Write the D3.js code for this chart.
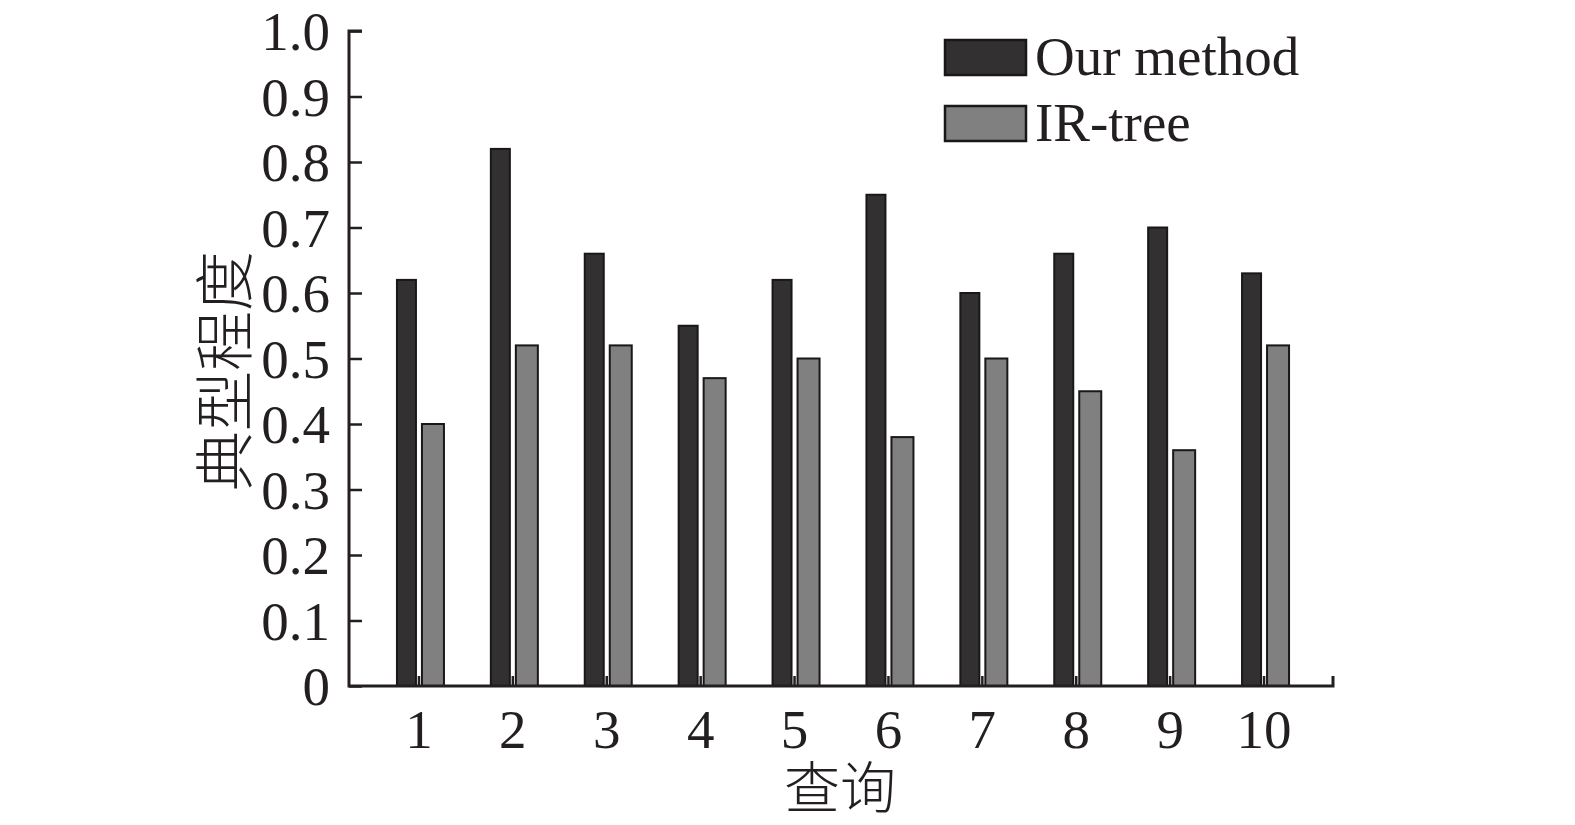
<!DOCTYPE html>
<html>
<head>
<meta charset="utf-8">
<script src="https://cdn.jsdelivr.net/npm/d3@7"></script>
<style>
  body { margin: 0; background: #fff; }
  text { font-family: "Liberation Serif", "Times New Roman", serif; fill: #231f20; }
  .cjk { font-family: "Noto Sans CJK SC", sans-serif; }
</style>
</head>
<body>
<script>
//data
var queries = ["1", "2", "3", "4", "5", "6", "7", "8", "9", "10"];
var ourMethod = [0.62, 0.82, 0.66, 0.55, 0.62, 0.75, 0.60, 0.66, 0.70, 0.63];
var irTree = [0.40, 0.52, 0.52, 0.47, 0.50, 0.38, 0.50, 0.45, 0.36, 0.52];
var yTicks = [0, 0.1, 0.2, 0.3, 0.4, 0.5, 0.6, 0.7, 0.8, 0.9, 1.0];
var seriesNames = ["Our method", "IR-tree"];

var width = 1575, height = 825;
var axisLeft = 349, axisRight = 1333, axisBottom = 686, axisTop = 31;
var colors = ["#333031", "#808080"];
var fontSize = 55;

var svg = d3.select("body").append("svg")
    .attr("width", width)
    .attr("height", height);

var x = d3.scaleBand()
    .domain(queries)
    .range([372, 1311]);

var y = d3.scaleLinear()
    .domain([0, 1])
    .range([axisBottom, axisTop]);

//bars, black one left of the category centre, grey one right of it
var groups = svg.selectAll(".q")
    .data(queries)
    .enter().append("g")
    .attr("class", "q")
    .attr("transform", function(d){ return "translate(" + (x(d) + x.bandwidth() / 2) + ",0)"; });

groups.append("rect")
    .attr("x", -22)
    .attr("width", 19)
    .attr("y", function(d, i){ return y(ourMethod[i]); })
    .attr("height", function(d, i){ return axisBottom - y(ourMethod[i]); })
    .attr("fill", colors[0])
    .attr("stroke", "#1a1718")
    .attr("stroke-width", 2);

groups.append("rect")
    .attr("x", 3)
    .attr("width", 22)
    .attr("y", function(d, i){ return y(irTree[i]); })
    .attr("height", function(d, i){ return axisBottom - y(irTree[i]); })
    .attr("fill", colors[1])
    .attr("stroke", "#1a1718")
    .attr("stroke-width", 2);

//y axis, ticks pointing inward
var yAxis = svg.append("g")
    .attr("transform", "translate(" + axisLeft + ",0)")
    .call(d3.axisLeft(y).tickValues(yTicks).tickSize(-13).tickPadding(19)
        .tickFormat(function(d){ return d === 0 ? "0" : d3.format(".1f")(d); }));
yAxis.select(".domain").remove();
yAxis.selectAll("line").attr("stroke", "#231f20").attr("stroke-width", 2.5);
yAxis.selectAll("text").attr("font-size", fontSize).attr("fill", "#231f20")
    .attr("font-family", "Liberation Serif, serif").attr("dy", "0.34em");

//x axis, small ticks pointing up
var xAxis = svg.append("g")
    .attr("transform", "translate(0," + axisBottom + ")")
    .call(d3.axisBottom(x).tickSize(-10).tickPadding(22));
xAxis.select(".domain").remove();
xAxis.selectAll("line").attr("stroke", "#231f20").attr("stroke-width", 2.5);
xAxis.selectAll("text").attr("font-size", fontSize).attr("fill", "#231f20")
    .attr("font-family", "Liberation Serif, serif").attr("dy", "0.72em");

//axis lines
svg.append("path")
    .attr("d", "M" + (axisLeft + 13) + "," + axisTop + "H" + axisLeft + "V" + axisBottom + "H" + axisRight + "V" + (axisBottom - 10))
    .attr("fill", "none")
    .attr("stroke", "#231f20")
    .attr("stroke-width", 3);

//axis titles
svg.append("text")
    .attr("class", "cjk")
    .attr("transform", "translate(247,371) rotate(-90)")
    .attr("text-anchor", "middle")
    .attr("font-size", 60)
    .attr("font-weight", 300)
    .text("典型程度");

svg.append("text")
    .attr("class", "cjk")
    .attr("x", 840)
    .attr("y", 808)
    .attr("text-anchor", "middle")
    .attr("font-size", 56)
    .attr("font-weight", 300)
    .text("查询");

//legend
var legend = svg.selectAll(".legend")
    .data(seriesNames)
    .enter().append("g")
    .attr("class", "legend")
    .attr("transform", function(d, i){ return "translate(945," + (40 + i * 66) + ")"; });

legend.append("rect")
    .attr("width", 81)
    .attr("height", 35)
    .attr("fill", function(d, i){ return colors[i]; })
    .attr("stroke", "#1a1718")
    .attr("stroke-width", 2.5);

legend.append("text")
    .attr("x", 90)
    .attr("y", 35)
    .attr("font-size", fontSize)
    .text(function(d){ return d; });
</script>
</body>
</html>
